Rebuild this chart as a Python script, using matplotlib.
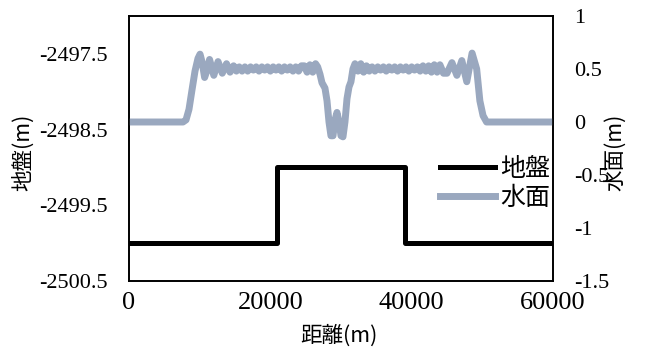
import numpy as np
import matplotlib
matplotlib.use("Agg")
import matplotlib.pyplot as plt
from matplotlib.ticker import FuncFormatter

plt.rcParams['axes.unicode_minus'] = False

# 地盤 (ground), left axis
ground_x = [0, 21000, 21000, 39000, 39000, 60000]
ground_y = [-2500, -2500, -2499, -2499, -2500, -2500]

# 水面 (water surface), right axis
water_x = [0, 7640, 8070, 8490, 8910, 9340, 9760, 10050, 10330, 10700, 11100,
           11400, 12000, 12600, 13200, 13800, 14300, 14800, 15200, 15600, 16000,
           16400, 16800, 17200, 17600, 18000, 18400, 18800, 19200, 19600, 20000,
           20400, 20800, 21200, 21600, 22000, 22400, 22800, 23200, 23600, 24000,
           24400, 24800, 25200, 25600, 26000, 26400, 26700, 27030, 27310, 27730,
           28020, 28300, 28580, 28870, 29150, 29430, 29720, 30000, 30280, 30560,
           30850, 31130, 31410, 31690, 31980, 32400, 32800, 33200, 33600, 34000,
           34400, 34800, 35200, 35600, 36000, 36400, 36800, 37200, 37600, 38000,
           38400, 38800, 39200, 39600, 40000, 40400, 40800, 41200, 41600, 42000,
           42400, 42800, 43200, 43600, 44000, 44500, 45000, 45700, 46400, 47100,
           47800, 48550, 49200, 49650, 50100, 50600, 60000]
water_y = [0, 0, 0.02, 0.12, 0.3, 0.48, 0.6, 0.64, 0.57, 0.42, 0.5,
           0.59, 0.44, 0.57, 0.46, 0.55, 0.47, 0.53, 0.48, 0.52, 0.48,
           0.52, 0.48, 0.52, 0.49, 0.52, 0.48, 0.52, 0.49, 0.52, 0.48,
           0.52, 0.49, 0.52, 0.48, 0.52, 0.49, 0.52, 0.48, 0.52, 0.48,
           0.53, 0.53, 0.47, 0.54, 0.47, 0.55, 0.52, 0.45, 0.37, 0.32,
           0.2, 0.0, -0.13, -0.13, 0.02, 0.09, 0.0, -0.13, -0.14, 0.0,
           0.22, 0.33, 0.38, 0.5, 0.55, 0.48, 0.55, 0.47, 0.53, 0.48,
           0.52, 0.48, 0.52, 0.49, 0.52, 0.48, 0.52, 0.49, 0.52, 0.48,
           0.52, 0.49, 0.52, 0.48, 0.52, 0.49, 0.52, 0.48, 0.53, 0.48,
           0.53, 0.47, 0.54, 0.47, 0.54, 0.46, 0.46, 0.56, 0.44, 0.58,
           0.38, 0.65, 0.5, 0.2, 0.06, 0.0, 0]

x_ticks = [0, 20000, 40000, 60000]
left_ticks = [-2500.5, -2499.5, -2498.5, -2497.5]
right_ticks = [-1.5, -1, -0.5, 0, 0.5, 1]

cjk = ['Noto Sans CJK JP', 'DejaVu Sans']
serif = 'Liberation Serif'

fig = plt.figure(figsize=(6.48, 3.47), dpi=100)
ax = fig.add_axes([129 / 648, 1 - 281 / 347, 424 / 648, 265 / 347])
ax2 = ax.twinx()

l1, = ax.plot(ground_x, ground_y, color='black', lw=3.6,
              solid_joinstyle='round', label='地盤')
l2, = ax2.plot(water_x, water_y, color='#9aa8bf', lw=5,
               solid_joinstyle='round', label='水面')

ax.set_xlim(0, 60000)
ax.set_ylim(-2500.5, -2497)
ax2.set_ylim(-1.5, 1)
ax.set_xticks(x_ticks)
ax.set_yticks(left_ticks)
ax2.set_yticks(right_ticks)
fmt = FuncFormatter(lambda v, p: '%g' % v)
ax.yaxis.set_major_formatter(fmt)
ax2.yaxis.set_major_formatter(fmt)

ax.tick_params(axis='x', length=0, pad=8, labelsize=19)
ax.tick_params(axis='y', length=0, pad=15, labelsize=16)
ax2.tick_params(axis='y', length=0, pad=15, labelsize=16)
for t in ax.get_xticklabels() + ax.get_yticklabels() + ax2.get_yticklabels():
    t.set_fontfamily(serif)

for a in (ax, ax2):
    for s in a.spines.values():
        s.set_linewidth(1.2)
        s.set_color('black')

fig.text(23 / 648, 1 - 152 / 347, '地盤(m)', rotation=90, ha='center',
         va='center', fontsize=15.5, family=cjk)
fig.text(615 / 648, 1 - 152 / 347, '水面(m)', rotation=90, ha='center',
         va='center', fontsize=15.5, family=cjk)
fig.text(339 / 648, 1 - 336 / 347, '距離(m)', ha='center', va='center',
         fontsize=15.5, family=cjk)

leg = ax2.legend([l1, l2], ['地盤', '水面'], loc='center left',
                 bbox_to_anchor=(440 / 648, 1 - 183.5 / 347),
                 bbox_transform=fig.transFigure, frameon=False,
                 borderpad=0, borderaxespad=0, handlelength=2.2,
                 handletextpad=0.2, labelspacing=0.1,
                 prop={'family': cjk, 'size': 18})

fig.savefig('out.png', dpi=100)
